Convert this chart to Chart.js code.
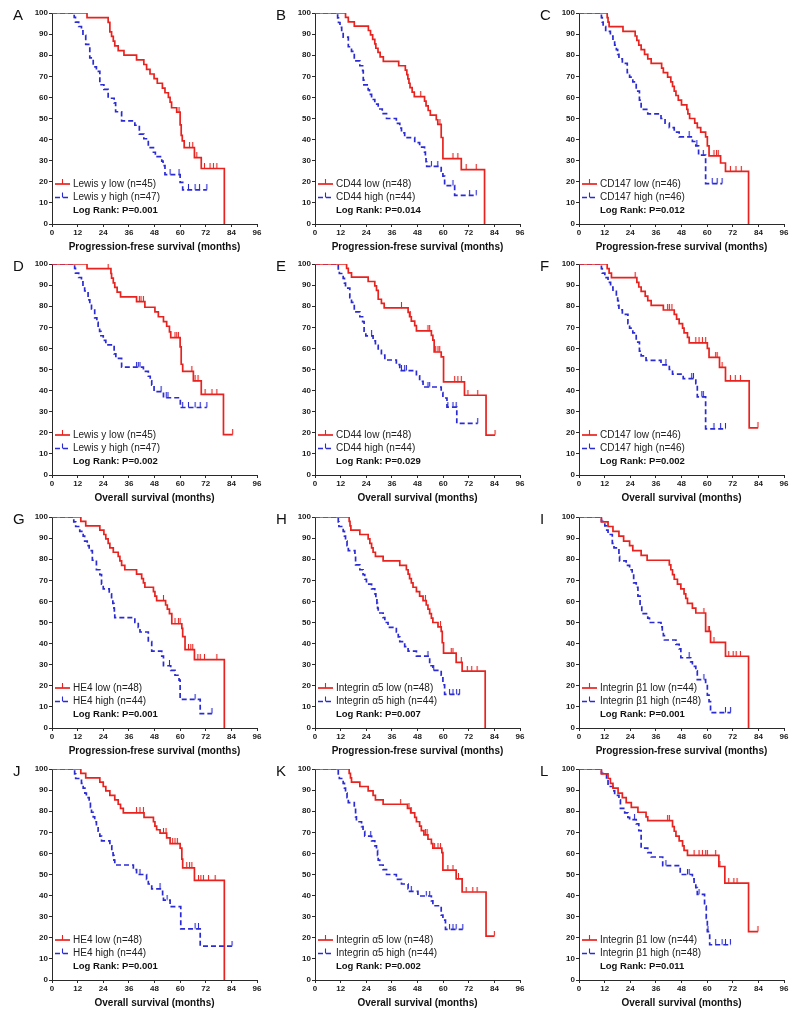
<!DOCTYPE html>
<html>
<head>
<meta charset="utf-8">
<script src="https://cdn.jsdelivr.net/npm/chart.js@4.4.1/dist/chart.umd.min.js"></script>
<style>
  html, body { margin: 0; padding: 0; background: #fff; overflow: hidden; }
  #fig { position: relative; width: 800px; height: 1013px; }
  #fig canvas { position: absolute; }
</style>
</head>
<body>
<div id="fig"></div>
<script>
/* -------------------------------------------------------
   DATA: Kaplan-Meier steps [month, % surviving] + censor times
------------------------------------------------------- */

const xTicks = [0, 12, 24, 36, 48, 60, 72, 84, 96];
const yTicks = [0, 10, 20, 30, 40, 50, 60, 70, 80, 90, 100];

// A - Lewis y, PFS
const lewisPfsLow = [[16.4,97.8],[26.3,95.6],[27.1,91.1],[27.9,88.9],[28.7,86.7],[29.4,84.4],[31,82.2],[33.7,80],[39.6,77.8],[43,75.6],[44.3,73.3],[45.9,71.1],[47.8,68.9],[49.3,66.7],[51.7,64.4],[52.9,62.2],[54.5,60],[55.3,57.8],[56,55.1],[58.4,53],[60,47],[60.5,42],[61,39.4],[61.9,36.2],[66.7,31.5],[69.9,26.3],[80.7,0]];
const lewisPfsLowCens = [59.5, 64.4, 65.9, 67.8, 71.4, 74, 75.6, 77.2];
const lewisPfsHigh = [[10.4,97.9],[11,95.7],[12.5,93.6],[13.8,91.5],[14.5,89.4],[15.8,85.1],[17.7,78.7],[19.3,74.5],[20.8,72.3],[22.4,66],[24.3,63.8],[26.3,59.6],[29.1,57.4],[29.8,53.2],[32.6,48.9],[38.8,46.8],[40.9,42.6],[43,40.4],[45.1,36.2],[47.5,34],[48.4,31.9],[51.4,29.8],[52,27.7],[52.9,23.4],[60,19.7],[61.2,16.2]];
const lewisPfsHighCens = [55.3, 59.5, 63.9, 67, 69.1, 72.5];

// B - CD44, PFS
const cd44PfsLow = [[14.3,97.9],[15.6,95.8],[18.4,93.8],[25,91.7],[26,89.6],[27,87.5],[28,85.4],[28.5,83.3],[29.5,81.3],[30.5,79.2],[32,77.1],[39.2,75],[42.3,72.9],[43,70.8],[43.5,68.8],[44,66.7],[44.5,64.6],[45.5,62.5],[46.5,60.4],[51.3,58.2],[52,56],[53,53.8],[54,51.6],[56.8,49.4],[57.5,47.2],[59.1,41],[59.9,31],[68.5,25.8],[79.4,0]];
const cd44PfsLowCens = [49.5, 58.5, 64.6, 66.9, 70.8, 75.5];
const cd44PfsHigh = [[10.6,97.7],[11,95.5],[11.7,93.2],[12.5,90.9],[13.2,88.6],[15.6,84],[17.1,81.8],[18.4,77.3],[21,75],[22.3,72.7],[22.6,68.2],[22.9,65.9],[24.9,63.6],[25.5,61.4],[26.5,59],[28,56.8],[29.6,54.5],[31.5,52.3],[33.5,50],[38.1,47.7],[39.7,45.5],[40.5,43.2],[42,40.9],[46.7,38.6],[49,36.4],[51.3,34.1],[51.7,31.8],[52,29.5],[52.3,27.3],[59.1,25],[59.9,22.7],[60.7,18.2],[65.4,13.6]];
const cd44PfsHighCens = [54.5, 57.5, 64.6, 72.4, 75.5];

// C - CD147, PFS
const cd147PfsLow = [[13.2,97.8],[13.6,95.7],[14.1,93.5],[20.6,91.3],[26.3,89.1],[27.1,87],[28,84.8],[29.1,82.6],[30.7,80.4],[32.2,78.3],[33.8,76.1],[38.7,73.9],[39.5,71.7],[41.5,69.6],[43,67.4],[43.8,65.2],[44.6,63],[45.4,60.9],[46.5,58.7],[48,56.5],[50.5,54.3],[51,52.2],[51.8,50],[54.2,47.8],[55.4,45.7],[57,43.5],[59.3,41.3],[60.1,37],[60.9,32.3],[66.3,28.9],[68.6,24.9],[79.4,0]];
const cd147PfsLowCens = [63.2, 64.4, 65.2, 70.9, 73.5, 76];
const cd147PfsHigh = [[10.5,97.8],[10.9,95.7],[11.3,93.5],[12.5,91.3],[14.7,89.1],[15.9,87],[16.7,84.8],[17.5,82.6],[18.1,80.4],[18.7,78.3],[20.3,76.1],[22.6,71.7],[23.7,69.6],[25.2,67.4],[26.8,63],[28.3,58.7],[29.1,54.3],[32.2,52.2],[38.4,50],[40.3,47.8],[42.3,45.7],[44.6,43.5],[46.9,41.3],[53.1,39.1],[54.7,37],[56,32.6],[59.3,19.1]];
const cd147PfsHighCens = [51.6, 55.2, 58.2, 62.4, 64.7, 67];

// D - Lewis y, OS
const lewisOsLow = [[16.4,97.8],[27.6,95.5],[27.9,93.3],[28.7,91.1],[29.4,88.9],[30.5,86.7],[32.1,84.4],[39.6,82.2],[43.5,79.5],[48.2,77.3],[49.8,75],[52.2,72.7],[53.7,70.5],[55,67.8],[55.6,65.1],[60,60.7],[60.5,52.5],[61.2,49.1],[66.2,44.6],[69.9,38.2],[80.3,19.1]];
const lewisOsLowCens = [26.3, 40.9, 41.7, 42.8, 57.6, 58.4, 59.2, 65.5, 67, 68.4, 71.7, 74.9, 77.2, 84.6];
const lewisOsHigh = [[10.6,97.9],[11,95.7],[12.5,93.6],[13.8,91.5],[14.5,89.4],[15.3,87.2],[16.9,83],[17.7,80.9],[18.5,78.7],[20,74.5],[21,72.3],[21.6,70.2],[22.3,68.1],[22.9,66],[24,63.8],[25.2,61.7],[29.1,57.4],[29.9,55.3],[32.6,51.1],[42.8,49.1],[45.1,46.8],[46,44.6],[46.7,42.6],[47.8,39.5],[52.2,36.6],[60.1,32]];
const lewisOsHighCens = [39.6, 40.4, 41.2, 51.1, 53.5, 54.3, 61.2, 63.9, 67, 69.4, 72.5];

// E - CD44, OS
const cd44OsLow = [[14.8,97.9],[15.6,95.8],[17.1,93.8],[24.9,91.7],[28,89.6],[28.8,87.5],[29.6,83.3],[31.1,81.3],[32.4,79.2],[43.6,77.1],[44.3,75],[45.1,72.9],[46.7,70.8],[47.5,68.3],[54.5,66.2],[55.2,63.9],[55.8,58.3],[59.1,56],[60.2,44.1],[70,37.8],[80.1,18.9]];
const cd44OsLowCens = [40.5, 44.6, 52.9, 53.7, 56.5, 57.6, 58.4, 65.4, 66.9, 68.5, 71.6, 76.2, 84.3];
const cd44OsHigh = [[10.9,97.7],[11.4,95.5],[13.2,93.2],[13.8,90.9],[14.3,88.6],[16.3,84.1],[17.1,81.8],[18.4,77.3],[21,75],[22.3,72.7],[23,68.2],[23.8,65.9],[27.2,63.6],[28.3,61.4],[29.6,59.1],[31.1,56.8],[32.7,54.5],[38.1,52.3],[39.7,49.5],[47.5,47],[49,44.4],[50.6,41.7],[59.1,39.1],[59.9,36.5],[61.8,32.2],[66.4,24.5]];
const cd44OsHighCens = [26.5, 40.5, 42, 42.8, 52.9, 53.7, 62.2, 64.6, 66.1, 76.2];

// F - CD147, OS
const cd147OsLow = [[13.2,97.8],[14.1,95.7],[15.2,93.5],[27.1,91.3],[28,89.1],[29.1,87],[31,84.8],[32.2,82.6],[33.8,80.4],[39.5,78.2],[44.6,76.1],[45.7,73.9],[46.9,71.7],[48.5,69.6],[49.2,67.4],[50.8,65.2],[51.6,62.6],[60.1,60],[60.9,55.7],[65.8,51],[68.6,44.6],[79.7,22.3]];
const cd147OsLowCens = [26.3, 41.5, 42.3, 43.5, 54.7, 56.2, 57.8, 59.3, 64, 64.7, 67, 70.9, 73.2, 75.6, 83.8];
const cd147OsHigh = [[10.5,97.8],[10.9,95.7],[12.1,93.5],[13.6,91.3],[14.8,89.1],[15.9,87],[17.5,84.8],[18.1,82.6],[18.4,80.4],[18.7,78.3],[20.3,76.1],[22.9,71.7],[23.7,69.6],[25.2,67.4],[26.8,63],[28.3,58.7],[29.1,56.5],[31.4,54.3],[38.4,52.2],[42.3,50],[43.8,47.8],[48.8,45.7],[54.7,43.3],[55.4,37],[59.3,21.9]];
const cd147OsHighCens = [40.7, 52.8, 53.6, 57.5, 58.2, 63.2, 66.3, 68.6];

// G - HE4, PFS
const he4PfsLow = [[13.5,97.9],[15.8,95.8],[22.4,93.8],[24.3,91.7],[25.2,89.6],[26.3,87.5],[27.1,85.4],[28.7,83.3],[31,81.3],[31.8,79.2],[32.6,77.1],[34.1,75],[39.6,72.9],[42,70.8],[42.8,68.8],[43.5,66.7],[47.5,64.6],[48.2,62.5],[49,60.4],[53.2,58.3],[54,56.3],[55,54.2],[56.1,49.4],[60.8,47.2],[61.2,43.3],[62.3,37.1],[66.7,32.4],[80.7,0]];
const he4PfsLowCens = [52.2, 57.6, 59.2, 60, 63.9, 65, 65.9, 68.3, 69.4, 71.4, 77.2];
const he4PfsHigh = [[10.2,97.7],[11.1,95.5],[13,93.2],[14.6,90.9],[15.3,88.6],[16.5,86.4],[17.4,84.1],[18.9,79.5],[20.8,75],[22.4,72.7],[23.2,68.2],[24,65.9],[26.8,63.6],[27.9,61.4],[28.5,59.1],[29,56.8],[29.2,54.5],[29.4,52.3],[38.8,50],[40.4,47.7],[41.2,45.5],[45.1,40.9],[46.7,36.4],[51.4,34.1],[52.2,29.5],[55.6,27.3],[57.6,25],[59.5,22.7],[60,13.6],[69.4,6.8]];
const he4PfsHighCens = [55, 67, 74.9];

// H - Integrin a5, PFS
const itga5PfsLow = [[16,97.9],[16.4,95.8],[16.8,93.8],[21,91.7],[24.9,89.6],[25.7,87.5],[26.5,85.4],[27.2,83.3],[28.3,81.3],[31.9,79.2],[39.7,77.1],[42.8,75],[43.6,72.9],[44.3,70.8],[45.1,68.8],[45.9,66.7],[47.5,64.6],[49,62.5],[50.6,60.4],[52.1,58.3],[52.9,56.3],[53.7,54.2],[54.5,52.1],[55.2,50],[57.6,47.9],[59.1,45.8],[59.6,40.4],[60.2,35.5],[66.1,31.1],[68.9,27],[79.7,0]];
const itga5PfsLowCens = [51.7, 58.8, 63.8, 64.6, 68.5, 71.3, 73.4, 75.9];
const itga5PfsHigh = [[10.9,97.7],[11.2,95.5],[13.2,93.2],[13.8,90.9],[14.3,88.6],[15,86.4],[15.6,84.1],[18.7,81.8],[19,77.3],[21,75],[22.5,72.7],[23.3,70.5],[24.1,68.2],[26.5,65.9],[28,63.6],[28.5,61.4],[29,59.1],[29.3,56.8],[29.6,54.5],[31.9,52.3],[32.7,50],[34.2,47.7],[38.1,45.5],[39,43.2],[39.7,40.9],[42,38.6],[43.6,36.4],[47.5,34.1],[53.7,29.5],[55.2,27.3],[59.1,25],[59.9,20.5],[60.7,15.9]];
const itga5PfsHighCens = [52.9, 55.6, 63, 64.6, 66.3, 67.7];

// I - Integrin b1, PFS
const itgb1PfsLow = [[10.5,97.7],[13.6,95.5],[15.9,93.2],[18.7,90.9],[20.9,88.6],[23.7,86.4],[25.2,84.1],[29.1,81.8],[31.9,79.5],[42.3,77.3],[43,75],[43.8,72.7],[44.6,70.5],[46.1,68.2],[47.7,65.9],[49.2,63.6],[50,61.4],[50.8,59.1],[53.1,56.8],[54.7,54.5],[59.3,45.8],[61.6,40.6],[68.6,34],[79.4,0]];
const itgb1PfsLowCens = [58.5, 60.5, 61.1, 63.2, 70.1, 72.2, 73.6, 75.6];
const itgb1PfsHigh = [[10.5,97.9],[12.1,95.8],[13,93.8],[13.6,91.7],[15.6,87.5],[16.4,85.4],[18.7,81.3],[19,79.2],[22.1,77.1],[23.7,75],[24.9,72.9],[25.6,68.8],[26.8,66.7],[27.6,62.5],[28.6,58.3],[29.4,54.2],[32.2,52.1],[33,50],[38.4,47.9],[39,45.8],[39.5,43.8],[40,41.7],[45.4,39.6],[46.9,37.5],[47.7,33.3],[52.3,31.3],[53.1,29.2],[54.7,27.1],[55.4,22.9],[59.3,20.8],[60.1,15.6],[60.9,12.5],[61.6,7.3]];
const itgb1PfsHighCens = [51.6, 58.5, 68.6, 71];

// J - HE4, OS
const he4OsLow = [[13.5,97.9],[15.8,95.8],[22.4,93.8],[24,91.7],[25.2,89.6],[27.1,87.5],[29.4,85.4],[31,83.3],[32.1,81.3],[33.4,79.2],[43.1,77.1],[47.5,75],[48.2,72.9],[49,71.2],[50.6,69.6],[53.7,67.4],[55.3,64.6],[60,62.5],[60.8,57.3],[61.2,53.1],[66.7,47.2],[80.7,0]];
const he4OsLowCens = [39.6, 41.2, 42.8, 52.2, 53.4, 56.5, 57.6, 58.7, 63.1, 64.4, 65.5, 68.6, 69.7, 70.9, 73.3, 76.4];
const he4OsHigh = [[10.6,97.7],[11.1,95.5],[13.8,93.2],[14.6,90.9],[15.4,88.6],[16.1,86.4],[17.4,84.1],[18,81.8],[18.5,79.5],[19.3,77.3],[20,75],[20.8,72.7],[21.6,70.5],[22.4,68.2],[23.2,65.9],[27.1,63.6],[28,61.4],[28.6,59.1],[29,56.8],[29.4,54.5],[38.1,52.3],[39.6,50],[44.3,47.7],[45.1,45.5],[46.7,43.2],[51.8,40.5],[52.2,37.9],[55.3,34.8],[60.3,24.2],[69.4,16.1]];
const he4OsHighCens = [41.2, 50.6, 53.9, 67, 68.6, 84.3];

// K - Integrin a5, OS
const itga5OsLow = [[16,97.9],[16.6,95.8],[17.1,93.8],[21,91.7],[24.9,89.6],[27.2,87.5],[28.3,85.4],[31.9,83.3],[43.3,81.3],[44.8,79.2],[46.7,77.1],[47.5,75],[49,72.9],[49.8,70.8],[51,68.8],[52.9,66.7],[54.5,64.6],[55.2,62.5],[59.4,60.4],[59.9,52.1],[66.1,47.9],[68.9,41.7],[80.1,20.8]];
const itga5OsLowCens = [40.1, 44, 45, 51.7, 52.5, 56, 57.6, 58.8, 62.2, 64.6, 67.2, 70.8, 73.9, 75.9, 84];
const itga5OsHigh = [[10.9,97.7],[11.4,95.5],[13.2,93.2],[13.8,90.9],[14.3,88.6],[15,86.4],[15.6,84.1],[18.4,81.8],[19,77.3],[19.4,75],[21.8,72.7],[22.5,70.5],[23.3,68.2],[26.5,65.9],[28,63.6],[28.8,61.4],[29.3,59.1],[29.6,56.8],[30.3,54.5],[31.9,52.3],[33.5,50],[38.1,47.7],[40.5,45.5],[43.6,43.2],[44.3,42],[48.2,39.8],[54.5,37.5],[55.2,35.2],[59.1,30.7],[59.9,28.4],[61.1,24]];
const itga5OsHighCens = [26.1, 45.1, 52.1, 53.7, 63, 64.6, 66.1, 69.2];

// L - Integrin b1, OS
const itgb1OsLow = [[10.5,97.7],[13.6,95.5],[14.7,93.2],[15.9,90.9],[18.3,88.6],[20.3,86.4],[22.1,84.1],[24.5,81.8],[27.6,79.5],[31.4,77.3],[32.2,75.5],[43.8,72.7],[44.6,70.5],[45.4,68.2],[46.9,65.9],[48.5,63.6],[49.2,61.4],[50.8,59.1],[65.5,53.8],[68.3,45.9],[79.4,22.9]];
const itgb1OsLowCens = [41.5, 42.3, 53.9, 56.2, 57.8, 59.3, 60.1, 64, 66, 70.1, 72.5, 74, 83.8];
const itgb1OsHigh = [[10.5,97.9],[12.9,95.8],[13.6,91.7],[15.9,89.6],[16.7,87.5],[18.7,85.4],[19.4,81.3],[21.4,79.2],[22.9,77.1],[23.7,76],[26.8,74],[28,70.8],[29.1,62.5],[32.2,60.4],[33.8,58.3],[39.2,54.2],[47.4,50],[53.1,47.9],[53.9,45.8],[54.7,43.8],[55.4,40.6],[58.8,35],[59.6,29.2],[60.1,22.9],[61.2,16.7]];
const itgb1OsHighCens = [26, 40.7, 50.8, 51.6, 56.2, 60.4, 64, 67, 68.6, 70.9];

const pfsTitle = "Progression-frese survival (months)";
const osTitle = "Overall survival (months)";

const panels = [
  { tag: "A", low: lewisPfsLow, lowCens: lewisPfsLowCens, high: lewisPfsHigh, highCens: lewisPfsHighCens, lowLabel: "Lewis y low (n=45)", highLabel: "Lewis y high (n=47)", pText: "Log Rank: P=0.001", xTitle: pfsTitle },
  { tag: "B", low: cd44PfsLow, lowCens: cd44PfsLowCens, high: cd44PfsHigh, highCens: cd44PfsHighCens, lowLabel: "CD44 low (n=48)", highLabel: "CD44 high (n=44)", pText: "Log Rank: P=0.014", xTitle: pfsTitle },
  { tag: "C", low: cd147PfsLow, lowCens: cd147PfsLowCens, high: cd147PfsHigh, highCens: cd147PfsHighCens, lowLabel: "CD147 low (n=46)", highLabel: "CD147 high (n=46)", pText: "Log Rank: P=0.012", xTitle: pfsTitle },
  { tag: "D", low: lewisOsLow, lowCens: lewisOsLowCens, high: lewisOsHigh, highCens: lewisOsHighCens, lowLabel: "Lewis y low (n=45)", highLabel: "Lewis y high (n=47)", pText: "Log Rank: P=0.002", xTitle: osTitle },
  { tag: "E", low: cd44OsLow, lowCens: cd44OsLowCens, high: cd44OsHigh, highCens: cd44OsHighCens, lowLabel: "CD44 low (n=48)", highLabel: "CD44 high (n=44)", pText: "Log Rank: P=0.029", xTitle: osTitle },
  { tag: "F", low: cd147OsLow, lowCens: cd147OsLowCens, high: cd147OsHigh, highCens: cd147OsHighCens, lowLabel: "CD147 low (n=46)", highLabel: "CD147 high (n=46)", pText: "Log Rank: P=0.002", xTitle: osTitle },
  { tag: "G", low: he4PfsLow, lowCens: he4PfsLowCens, high: he4PfsHigh, highCens: he4PfsHighCens, lowLabel: "HE4 low (n=48)", highLabel: "HE4 high (n=44)", pText: "Log Rank: P=0.001", xTitle: pfsTitle },
  { tag: "H", low: itga5PfsLow, lowCens: itga5PfsLowCens, high: itga5PfsHigh, highCens: itga5PfsHighCens, lowLabel: "Integrin \u03b15 low (n=48)", highLabel: "Integrin \u03b15 high (n=44)", pText: "Log Rank: P=0.007", xTitle: pfsTitle },
  { tag: "I", low: itgb1PfsLow, lowCens: itgb1PfsLowCens, high: itgb1PfsHigh, highCens: itgb1PfsHighCens, lowLabel: "Integrin \u03b21 low (n=44)", highLabel: "Integrin \u03b21 high (n=48)", pText: "Log Rank: P=0.001", xTitle: pfsTitle },
  { tag: "J", low: he4OsLow, lowCens: he4OsLowCens, high: he4OsHigh, highCens: he4OsHighCens, lowLabel: "HE4 low (n=48)", highLabel: "HE4 high (n=44)", pText: "Log Rank: P=0.001", xTitle: osTitle },
  { tag: "K", low: itga5OsLow, lowCens: itga5OsLowCens, high: itga5OsHigh, highCens: itga5OsHighCens, lowLabel: "Integrin \u03b15 low (n=48)", highLabel: "Integrin \u03b15 high (n=44)", pText: "Log Rank: P=0.002", xTitle: osTitle },
  { tag: "L", low: itgb1OsLow, lowCens: itgb1OsLowCens, high: itgb1OsHigh, highCens: itgb1OsHighCens, lowLabel: "Integrin \u03b21 low (n=44)", highLabel: "Integrin \u03b21 high (n=48)", pText: "Log Rank: P=0.011", xTitle: osTitle }
];

/* -------------------------------------------------------
   STYLE / LAYOUT
------------------------------------------------------- */

const FONT = "Arial, 'Liberation Sans', Helvetica, sans-serif";
const RED = "#e8231f";
const BLUE = "#2b2bd6";
const AXIS = "#2a2a2a";
const LINE_W = 1.7;
const BLUE_DASH = [5, 3];
const colLeft = [7, 270, 534];
const rowTop = [5, 256, 509, 761];

// small upward tick used as censor marker
function makeTick(color) {
  const c = document.createElement("canvas");
  c.width = 3;
  c.height = 11;
  const g = c.getContext("2d");
  g.strokeStyle = color;
  g.lineWidth = 1.1;
  g.beginPath();
  g.moveTo(1.5, 0);
  g.lineTo(1.5, 5.5);
  g.stroke();
  return c;
}
const tickRed = makeTick(RED);
const tickBlue = makeTick(BLUE);

function stepPoints(events, cens) {
  const pts = [{ x: 0, y: 100 }];
  events.forEach(([t, s]) => pts.push({ x: t, y: s }));
  const last = events[events.length - 1];
  const lastCens = Math.max(...cens);
  if (last[1] > 0 && lastCens > last[0]) pts.push({ x: lastCens, y: last[1] });
  return pts;
}

function survAt(events, t) {
  let s = 100;
  events.forEach(([et, es]) => { if (et <= t) s = es; });
  return s;
}

// panel letter + in-plot legend
function panelDecor(p) {
  return {
    id: "panelDecor",
    afterDraw(chart) {
      const { ctx, chartArea: a } = chart;
      ctx.save();
      ctx.fillStyle = "#111";
      ctx.font = "15px " + FONT;
      ctx.textAlign = "left";
      ctx.textBaseline = "top";
      ctx.fillText(p.tag, a.left - 39, a.top - 5);

      const rows = [
        { text: p.lowLabel, color: RED, dash: [], y: a.bottom - 40 },
        { text: p.highLabel, color: BLUE, dash: BLUE_DASH, y: a.bottom - 26.5 }
      ];
      rows.forEach(r => {
        ctx.strokeStyle = r.color;
        ctx.lineWidth = LINE_W;
        ctx.setLineDash(r.dash);
        ctx.beginPath();
        ctx.moveTo(a.left + 3, r.y);
        ctx.lineTo(a.left + 18, r.y);
        ctx.stroke();
        ctx.setLineDash([]);
        ctx.lineWidth = 1.1;
        ctx.beginPath();
        ctx.moveTo(a.left + 10.5, r.y);
        ctx.lineTo(a.left + 10.5, r.y - 5);
        ctx.stroke();
        ctx.fillStyle = "#222";
        ctx.font = "10px " + FONT;
        ctx.textBaseline = "middle";
        ctx.fillText(r.text, a.left + 21, r.y);
      });
      ctx.fillStyle = "#111";
      ctx.font = "bold 9.5px " + FONT;
      ctx.textBaseline = "middle";
      ctx.fillText(p.pText, a.left + 21, a.bottom - 14);
      ctx.restore();
    }
  };
}

function axisFont() {
  return { family: FONT, size: 8, weight: "bold" };
}

/* -------------------------------------------------------
   BUILD THE 12 PANELS
------------------------------------------------------- */

const fig = document.getElementById("fig");

panels.forEach((p, i) => {
  const canvas = document.createElement("canvas");
  canvas.width = 262;
  canvas.height = 251;
  canvas.style.left = colLeft[i % 3] + "px";
  canvas.style.top = rowTop[Math.floor(i / 3)] + "px";
  fig.appendChild(canvas);

  new Chart(canvas.getContext("2d"), {
    type: "line",
    data: {
      datasets: [
        {
          data: stepPoints(p.low, p.lowCens),
          borderColor: RED,
          borderWidth: LINE_W,
          stepped: true,
          pointRadius: 0,
          fill: false
        },
        {
          data: stepPoints(p.high, p.highCens),
          borderColor: BLUE,
          borderWidth: LINE_W,
          borderDash: BLUE_DASH,
          stepped: true,
          pointRadius: 0,
          fill: false
        },
        {
          data: p.lowCens.map(t => ({ x: t, y: survAt(p.low, t) })),
          showLine: false,
          pointStyle: tickRed,
          pointRadius: 3
        },
        {
          data: p.highCens.map(t => ({ x: t, y: survAt(p.high, t) })),
          showLine: false,
          pointStyle: tickBlue,
          pointRadius: 3
        }
      ]
    },
    options: {
      responsive: false,
      animation: false,
      events: [],
      layout: { padding: { top: 8, right: 12, left: 0, bottom: 0 } },
      plugins: {
        legend: { display: false },
        tooltip: { enabled: false }
      },
      scales: {
        x: {
          type: "linear",
          min: 0,
          max: 96,
          afterBuildTicks: s => { s.ticks = xTicks.map(v => ({ value: v })); },
          afterFit: s => { s.height = 32; },
          ticks: { font: axisFont(), color: "#1a1a1a", padding: 1, maxRotation: 0, autoSkip: false },
          grid: { drawOnChartArea: false, tickLength: 3, color: AXIS },
          border: { color: AXIS, width: 1 },
          title: {
            display: true,
            text: p.xTitle,
            color: "#111",
            font: { family: FONT, size: 10, weight: "bold" },
            padding: { top: 2, bottom: 3 }
          }
        },
        y: {
          min: 0,
          max: 100,
          afterBuildTicks: s => { s.ticks = yTicks.map(v => ({ value: v })); },
          afterFit: s => { s.width = 45; },
          ticks: { font: axisFont(), color: "#1a1a1a", padding: 1, autoSkip: false },
          grid: { drawOnChartArea: false, tickLength: 3, color: AXIS },
          border: { color: AXIS, width: 1 }
        }
      }
    },
    plugins: [panelDecor(p)]
  });
});
</script>
</body>
</html>
